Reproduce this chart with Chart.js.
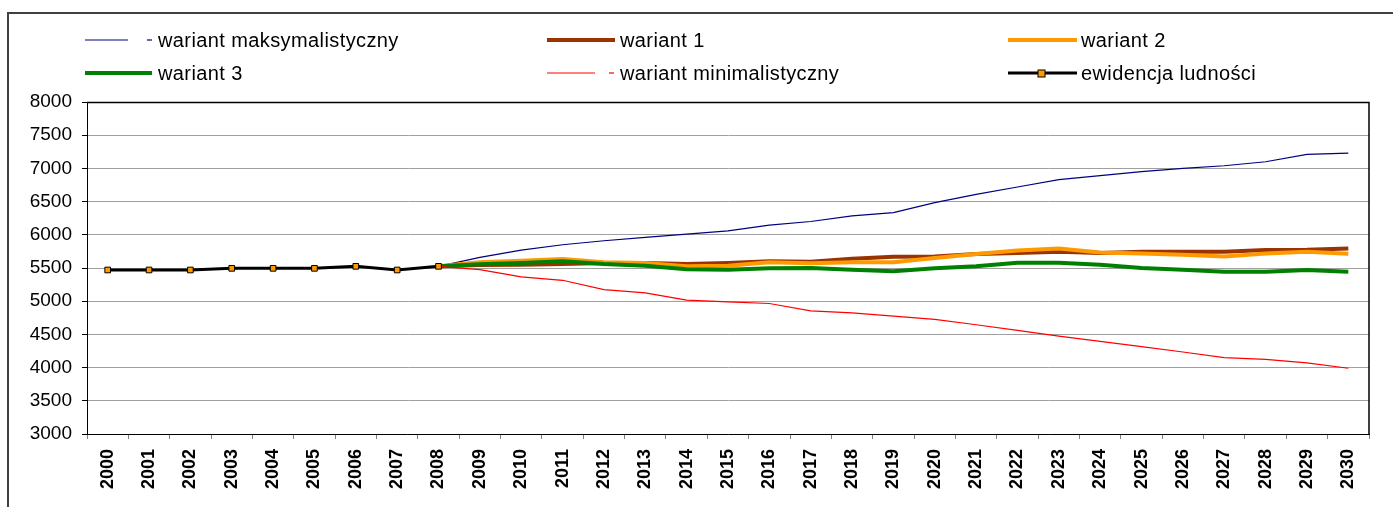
<!DOCTYPE html>
<html>
<head>
<meta charset="utf-8">
<script src="https://cdn.jsdelivr.net/npm/chart.js@4"></script>
<style>
  body { margin: 0; background: #fff; }
  #wrap { width: 1393px; height: 507px; }
</style>
</head>
<body>
<div id="wrap"><canvas id="myChart" width="1393" height="507"></canvas></div>
<script>
const lata = ['2000', '2001', '2002', '2003', '2004', '2005', '2006', '2007', '2008', '2009', '2010',
    '2011', '2012', '2013', '2014', '2015', '2016', '2017', '2018', '2019', '2020',
    '2021', '2022', '2023', '2024', '2025', '2026', '2027', '2028', '2029', '2030'];

const ewidencja = [5470, 5470, 5470, 5495, 5495, 5495, 5525, 5470, 5525];

const maksymalistyczny = [null, null, null, null, null, null, null, null,
    5525, 5660, 5770, 5850, 5910, 5960, 6010, 6060, 6145, 6200, 6285, 6335, 6485,
    6610, 6720, 6830, 6890, 6950, 7000, 7040, 7100, 7210, 7230];
const wariant1 = [null, null, null, null, null, null, null, null,
    5525, 5545, 5550, 5560, 5575, 5575, 5560, 5575, 5600, 5595, 5640, 5670, 5675,
    5710, 5725, 5745, 5725, 5745, 5745, 5745, 5770, 5775, 5795];
const wariant2 = [null, null, null, null, null, null, null, null,
    5525, 5585, 5610, 5635, 5585, 5575, 5525, 5535, 5585, 5570, 5585, 5585, 5650,
    5710, 5765, 5795, 5735, 5720, 5700, 5675, 5720, 5745, 5715];
const wariant3 = [null, null, null, null, null, null, null, null,
    5525, 5555, 5575, 5600, 5560, 5535, 5480, 5475, 5495, 5500, 5475, 5450, 5495,
    5525, 5580, 5580, 5550, 5500, 5475, 5445, 5445, 5470, 5445];
const minimalistyczny = [null, null, null, null, null, null, null, null,
    5525, 5475, 5365, 5315, 5175, 5125, 5015, 4990, 4965, 4855, 4825, 4775, 4725,
    4645, 4560, 4475, 4395, 4315, 4235, 4150, 4125, 4070, 3990];

const osY = [3000, 3500, 4000, 4500, 5000, 5500, 6000, 6500, 7000, 7500, 8000];

Chart.defaults.font.family = '"Liberation Sans", Arial, sans-serif';
Chart.defaults.color = '#000';

// legenda rysowana recznie, 3 kolumny x 2 wiersze
const legenda = [
    { tekst: 'wariant maksymalistyczny', kolor: '#000080', x: 85, dl: 43, kreska: true, gr: 1.2, y: 40 },
    { tekst: 'wariant 1', kolor: '#993300', x: 547, dl: 68, gr: 4, y: 40 },
    { tekst: 'wariant 2', kolor: '#FF9900', x: 1008, dl: 69, gr: 4, y: 40 },
    { tekst: 'wariant 3', kolor: '#008000', x: 85, dl: 67, gr: 4, y: 73 },
    { tekst: 'wariant minimalistyczny', kolor: '#FF0000', x: 547, dl: 48, kreska: true, gr: 1.2, y: 73 },
    { tekst: 'ewidencja ludności', kolor: '#000000', x: 1008, dl: 69, gr: 3, y: 73, znacznik: true }
];

const ramka = {
    id: 'ramka',
    beforeDraw(chart) {
        const c = chart.ctx;
        c.save();
        c.fillStyle = '#fff';
        c.fillRect(0, 0, chart.width, chart.height);
        c.strokeStyle = '#404040';
        c.lineWidth = 2;
        c.beginPath();
        c.moveTo(8, chart.height);
        c.lineTo(8, 13);
        c.lineTo(chart.width, 13);
        c.stroke();
        c.restore();
    },
    afterDraw(chart) {
        const c = chart.ctx;
        const a = chart.chartArea;
        c.save();
        c.strokeStyle = '#000';
        c.lineWidth = 1.5;
        c.beginPath();
        c.moveTo(a.left, a.top + 0.5);
        c.lineTo(a.right, a.top + 0.5);
        c.lineTo(a.right, a.bottom);
        c.stroke();

        legenda.forEach(p => {
            c.strokeStyle = p.kolor;
            c.lineWidth = p.gr;
            c.beginPath();
            c.moveTo(p.x, p.y);
            c.lineTo(p.x + p.dl, p.y);
            c.stroke();
            if (p.kreska) {
                c.beginPath();
                c.moveTo(p.x + 62, p.y);
                c.lineTo(p.x + 67, p.y);
                c.stroke();
            }
            if (p.znacznik) {
                c.fillStyle = '#FF9900';
                c.fillRect(p.x + 30, p.y - 3, 7, 7);
                c.lineWidth = 1;
                c.strokeRect(p.x + 30, p.y - 3, 7, 7);
            }
            c.fillStyle = '#000';
            c.font = '20px "Liberation Sans", Arial, sans-serif';
            c.letterSpacing = '0.4px';
            c.textBaseline = 'middle';
            c.fillText(p.tekst, p.x + 73, p.y + 1);
        });
        c.restore();
    }
};

new Chart(document.getElementById('myChart'), {
    type: 'line',
    data: {
        labels: lata,
        datasets: [
            { label: 'wariant maksymalistyczny', data: maksymalistyczny, borderColor: '#000080', borderWidth: 1.2, pointRadius: 0, order: 6 },
            { label: 'wariant 1', data: wariant1, borderColor: '#993300', borderWidth: 4, pointRadius: 0, order: 5 },
            { label: 'wariant 2', data: wariant2, borderColor: '#FF9900', borderWidth: 4, pointRadius: 0, order: 4 },
            { label: 'wariant 3', data: wariant3, borderColor: '#008000', borderWidth: 4, pointRadius: 0, order: 3 },
            { label: 'wariant minimalistyczny', data: minimalistyczny, borderColor: '#FF0000', borderWidth: 1.2, pointRadius: 0, order: 2 },
            {
                label: 'ewidencja ludności', data: ewidencja, borderColor: '#000000', borderWidth: 3,
                pointStyle: 'rect', pointRadius: 4, pointBackgroundColor: '#FF9900',
                pointBorderColor: '#000', pointBorderWidth: 1, order: 1
            }
        ]
    },
    options: {
        responsive: false,
        animation: false,
        layout: { padding: { top: 102, right: 24, left: 0, bottom: 0 } },
        plugins: {
            legend: { display: false },
            tooltip: { enabled: false }
        },
        scales: {
            x: {
                offset: true,
                afterFit: s => { s.height = 73; },
                grid: { drawOnChartArea: false, offset: true, tickLength: 5, tickColor: '#808080' },
                border: { color: '#000', width: 1 },
                ticks: {
                    minRotation: 90, maxRotation: 90, padding: 10,
                    font: { size: 18, weight: 'bold' }
                }
            },
            y: {
                min: 3000, max: 8000,
                afterFit: s => { s.width = 87; },
                afterBuildTicks: s => { s.ticks = osY.map(v => ({ value: v })); },
                grid: { color: '#a0a0a0', tickLength: 5, tickColor: '#000' },
                border: { color: '#000', width: 1 },
                ticks: { padding: 10, font: { size: 19 }, callback: v => String(v) }
            }
        }
    },
    plugins: [ramka]
});
</script>
</body>
</html>
